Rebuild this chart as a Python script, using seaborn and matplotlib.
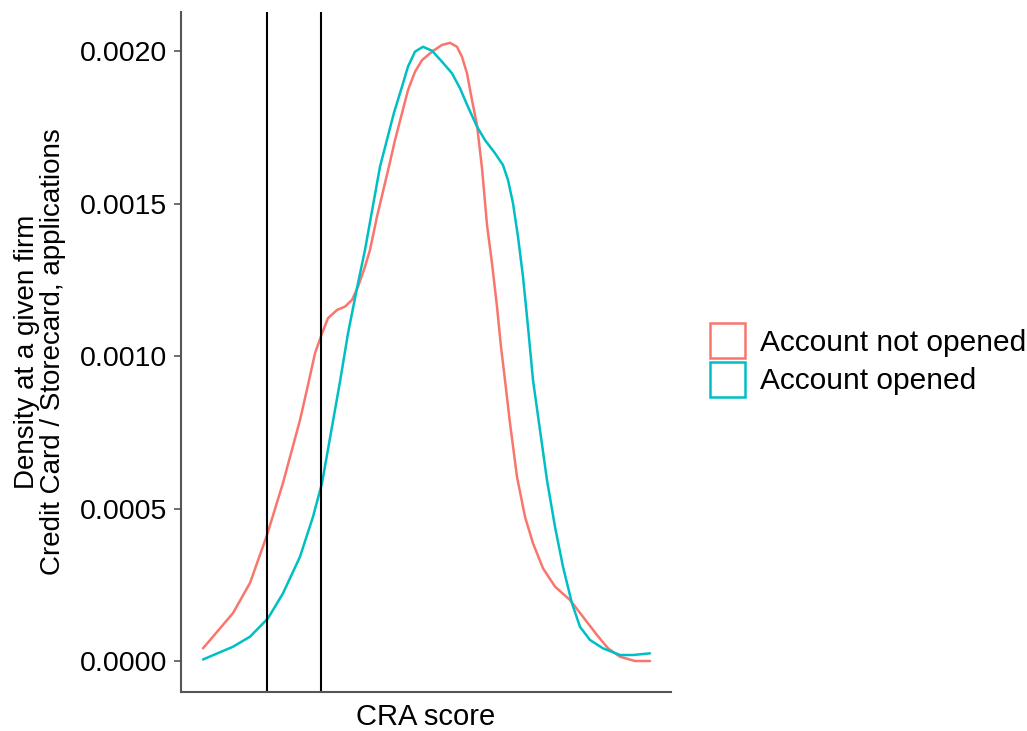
import matplotlib
matplotlib.use("Agg")
import matplotlib.pyplot as plt
from matplotlib.patches import Patch
import pandas as pd
import seaborn as sns

# Density curves (x = CRA score, arbitrary units)
not_opened_x = [0, 30, 47, 64, 80, 97, 105, 112, 119, 125, 134, 142, 149, 155, 162,
                167, 174, 187, 192, 199, 205, 212, 219, 229, 239, 247, 254, 259, 264,
                269, 274, 279, 284, 289, 294, 298, 302, 307, 314, 322, 330, 340, 352,
                367, 380, 394, 405, 417, 432, 447]
not_opened_y = [0.0000416, 0.000157, 0.000256, 0.000413, 0.000584, 0.000790, 0.000905,
                0.001009, 0.001074, 0.001124, 0.001151, 0.001162, 0.001184, 0.001227,
                0.001293, 0.001348, 0.001457, 0.001636, 0.001708, 0.001796, 0.001872,
                0.001932, 0.001970, 0.001998, 0.002020, 0.002027, 0.002014, 0.001981,
                0.001927, 0.001839, 0.001757, 0.001616, 0.001430, 0.001304, 0.001162,
                0.001030, 0.000921, 0.000780, 0.000604, 0.000473, 0.000386, 0.000304,
                0.000244, 0.000200, 0.000145, 0.0000852, 0.0000416, 0.0000141, 0.0, 0.0]

opened_x = [0, 30, 47, 65, 80, 97, 110, 119, 129, 137, 145, 154, 162, 177, 191, 199,
            205, 212, 220, 229, 239, 249, 257, 265, 274, 282, 292, 300, 305, 310, 315,
            320, 325, 330, 337, 344, 352, 360, 369, 377, 387, 400, 417, 430, 447]
opened_y = [0.0000050, 0.0000469, 0.0000797, 0.000140, 0.000222, 0.000342, 0.000473,
            0.000583, 0.000768, 0.000916, 0.001074, 0.001223, 0.001348, 0.001621,
            0.001798, 0.001883, 0.001949, 0.001998, 0.002014, 0.002001, 0.001965,
            0.001927, 0.001878, 0.001817, 0.001752, 0.001708, 0.001665, 0.001626,
            0.001577, 0.001501, 0.001391, 0.001260, 0.001096, 0.000921, 0.000757,
            0.000593, 0.000440, 0.000309, 0.000189, 0.000112, 0.0000689, 0.0000416,
            0.0000197, 0.0000197, 0.0000252]

cutoffs = [64, 118]
groups = ["Account not opened", "Account opened"]
colors = {"Account not opened": "#F8766D", "Account opened": "#00BFC4"}
y_ticks = [0.0, 0.0005, 0.0010, 0.0015, 0.0020]

df = pd.concat([
    pd.DataFrame({"score": not_opened_x, "density": not_opened_y, "group": groups[0]}),
    pd.DataFrame({"score": opened_x, "density": opened_y, "group": groups[1]}),
])

sns.set_style("white")
plt.rcParams["font.family"] = ["Liberation Sans", "DejaVu Sans"]
plt.rcParams["text.color"] = "black"
plt.rcParams["axes.labelcolor"] = "black"

W, H = 1027, 731
fig = plt.figure(figsize=(W / 100, H / 100), dpi=100)
ax = fig.add_axes([181 / W, 1 - 692 / H, (671 - 181) / W, (692 - 12) / H])

sns.lineplot(data=df, x="score", y="density", hue="group", palette=colors,
             linewidth=1.8, sort=False, estimator=None, legend=False, ax=ax)
for c in cutoffs:
    ax.axvline(c, color="black", linewidth=1.5)

ax.set_xlim(-22, 468)
ax.set_ylim(-0.0001016, 0.002128)
ax.set_yticks(y_ticks)
ax.set_yticklabels([f"{t:.4f}" for t in y_ticks])
ax.set_xticks([])
ax.tick_params(axis="y", labelsize=20.5, length=5, width=1.2, color="#555555",
               labelcolor="black", pad=5, left=True)

for side in ["top", "right"]:
    ax.spines[side].set_visible(False)
for side in ["left", "bottom"]:
    ax.spines[side].set_color("#555555")
    ax.spines[side].set_linewidth(1.5)

ax.set_xlabel("CRA score", fontsize=21, labelpad=8)
ax.set_ylabel("Density at a given firm\nCredit Card / Storecard, applications",
              fontsize=20, labelpad=10, linespacing=1.0)

handles = [Patch(facecolor="white", edgecolor=colors[g], linewidth=1.8, label=g) for g in groups]
fig.legend(handles=handles, loc="center left", bbox_to_anchor=(710 / W, 1 - 360 / H),
           frameon=False, fontsize=21.5, handlelength=1.17, handleheight=1.42,
           handletextpad=0.5, labelspacing=0.12, borderpad=0, borderaxespad=0)

fig.savefig("out.png", dpi=100)
